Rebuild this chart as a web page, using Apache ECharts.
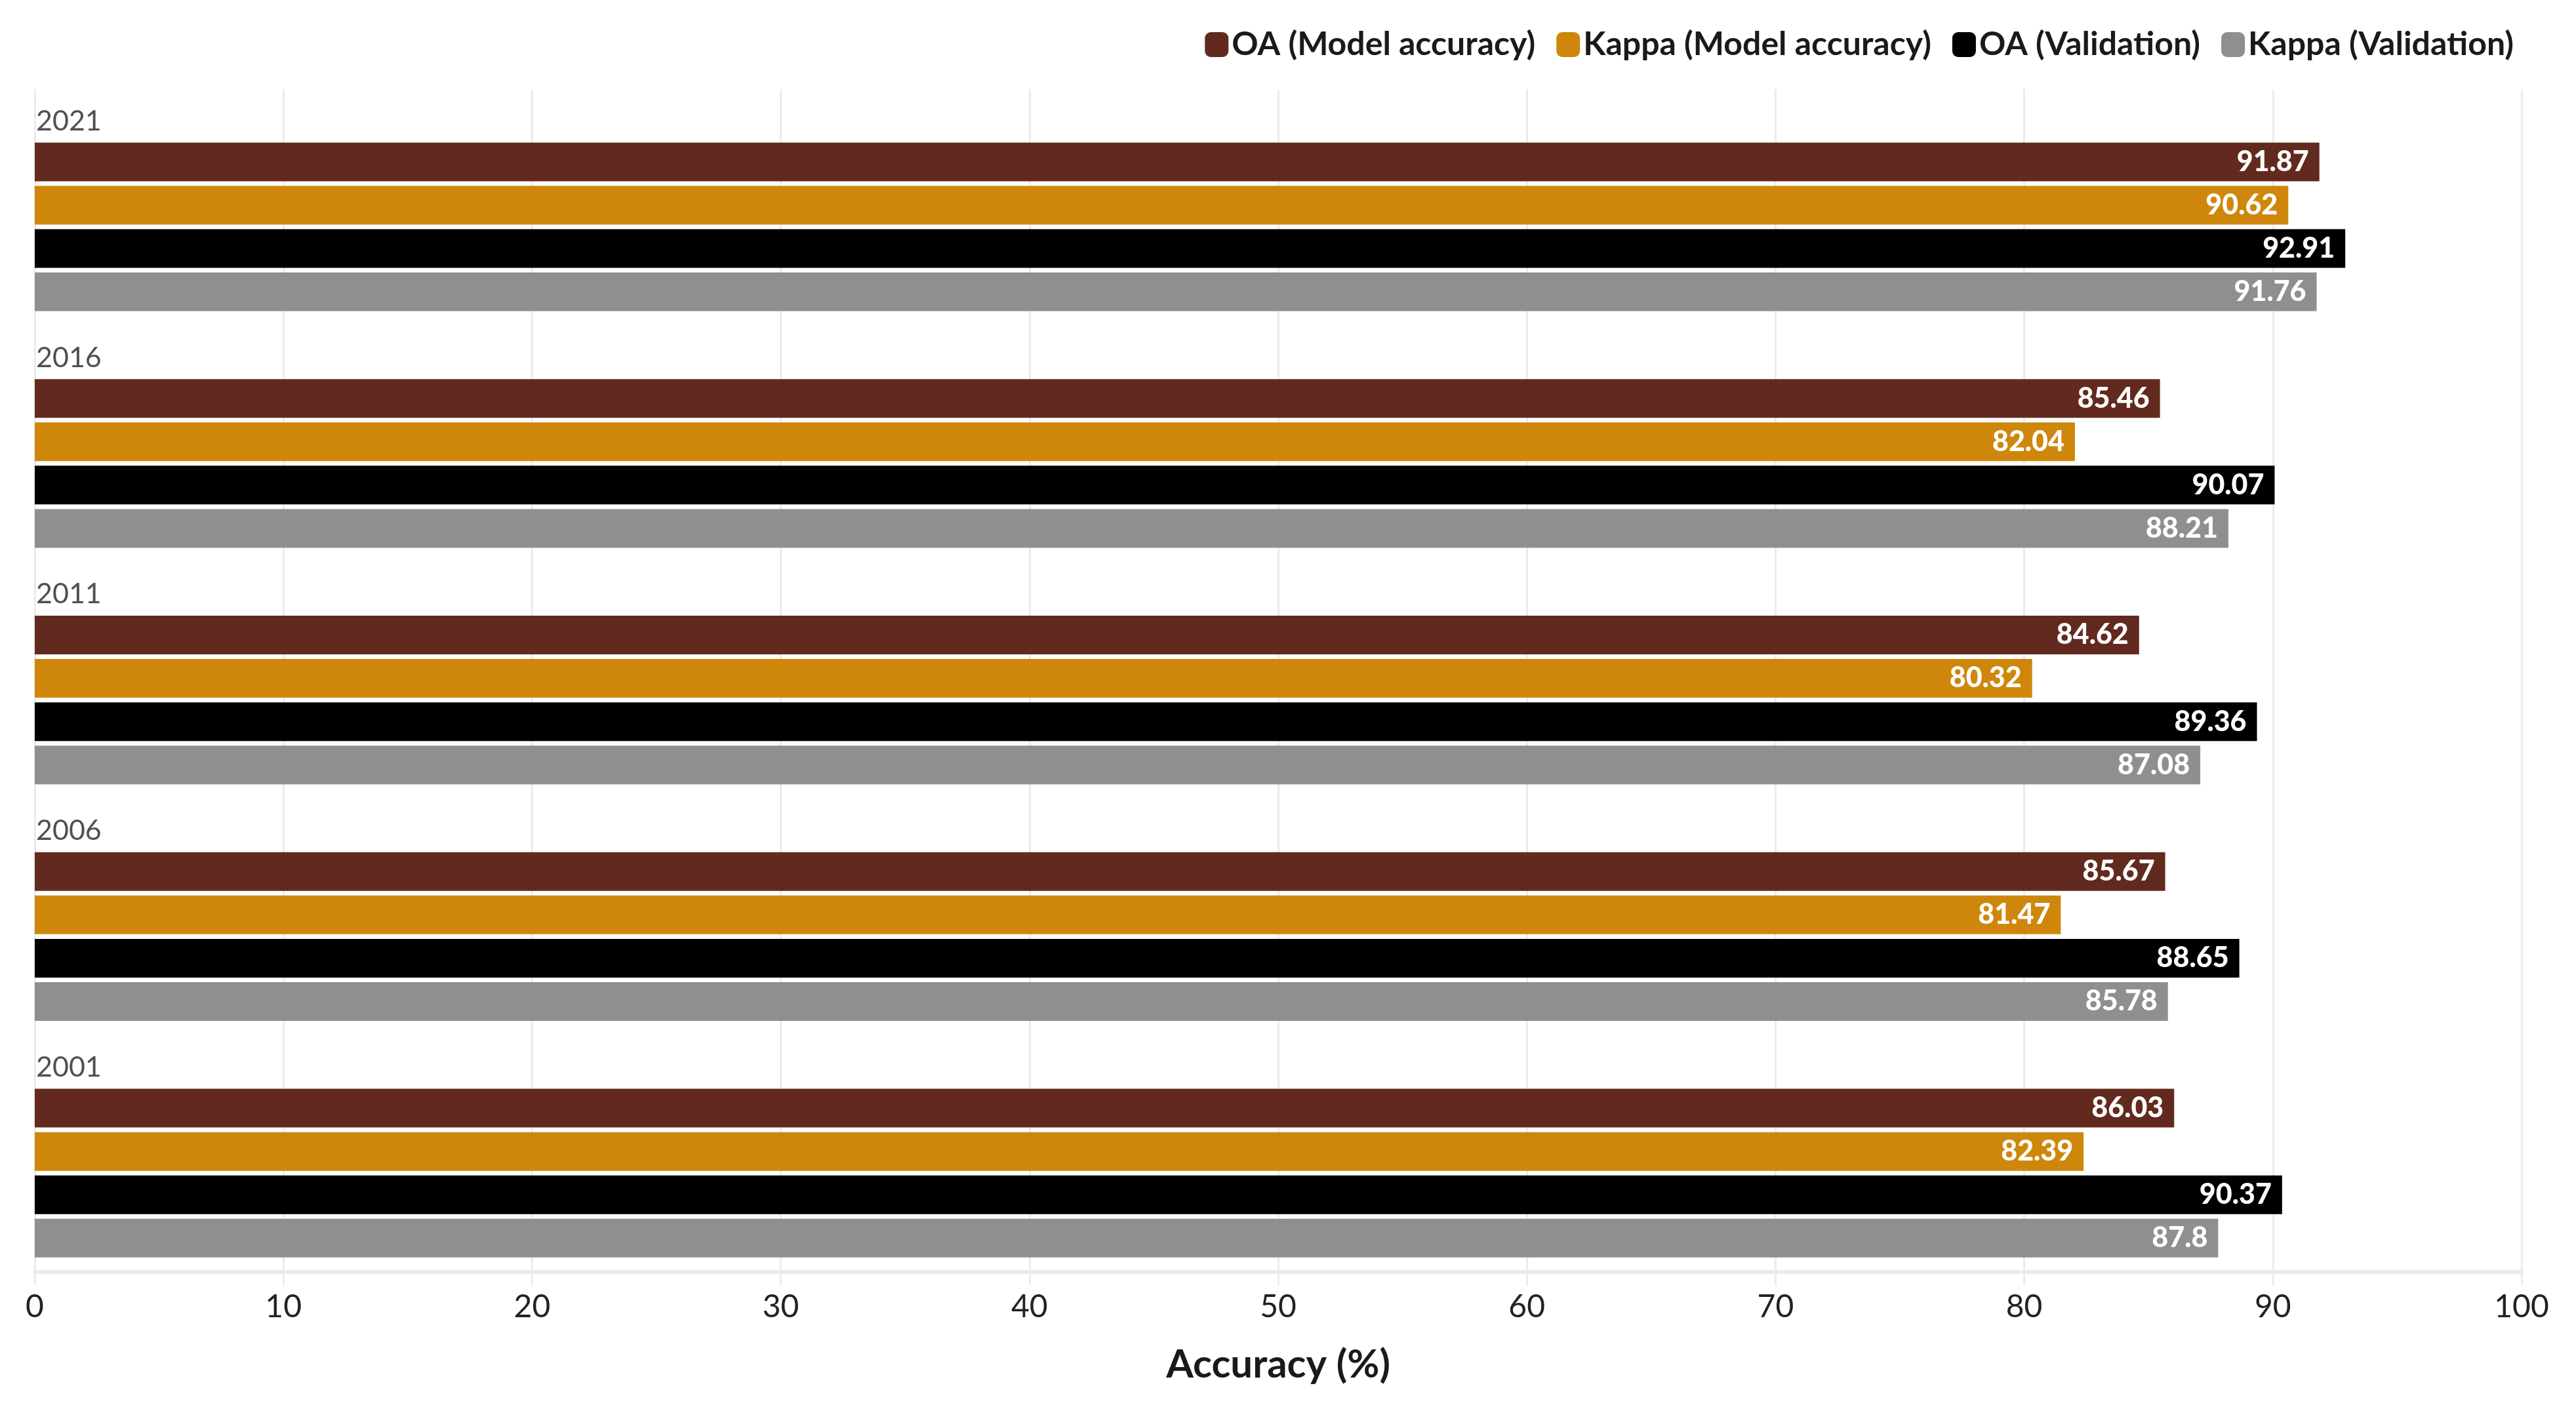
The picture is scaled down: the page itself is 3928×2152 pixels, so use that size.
<!DOCTYPE html>
<html>
<head>
<meta charset="utf-8">
<script src="https://cdn.jsdelivr.net/npm/echarts@6/dist/echarts.min.js"></script>
<style>
  html, body { margin: 0; padding: 0; background: #fff; }
  #chart { width: 3928px; height: 2152px; }
</style>
</head>
<body>
<div id="chart"></div>
<script>
// data
var years = ['2021', '2016', '2011', '2006', '2001'];
var seriesNames = ['OA (Model accuracy)', 'Kappa (Model accuracy)', 'OA (Validation)', 'Kappa (Validation)'];
var oaModel = [91.87, 85.46, 84.62, 85.67, 86.03];
var kappaModel = [90.62, 82.04, 80.32, 81.47, 82.39];
var oaValid = [92.91, 90.07, 89.36, 88.65, 90.37];
var kappaValid = [91.76, 88.21, 87.08, 85.78, 87.8];
var xTicks = [0, 10, 20, 30, 40, 50, 60, 70, 80, 90, 100];

var colors = ['#622a1f', '#cf870b', '#000000', '#8f8f8f'];
var values = [oaModel, kappaModel, oaValid, kappaValid];
var fontName = 'Lato';

var chart = echarts.init(document.getElementById('chart'), null, { renderer: 'canvas' });

var series = seriesNames.map(function (name, i) {
  return {
    name: name,
    type: 'bar',
    xAxisIndex: 1,
    yAxisIndex: 1,
    data: values[i],
    barWidth: 59,
    barGap: '12%',
    itemStyle: { color: colors[i] },
    label: {
      show: true,
      position: 'insideRight',
      distance: 16,
      color: '#ffffff',
      fontFamily: fontName,
      fontWeight: 900,
      fontSize: 43
    }
  };
});

// grid 0: gridlines + x axis, grid 1: bars, grid 2: year labels above each group
var option = {
  backgroundColor: '#ffffff',
  color: colors,
  legend: {
    data: seriesNames,
    right: 90,
    top: 38,
    icon: 'roundRect',
    itemWidth: 36,
    itemHeight: 38,
    itemGap: 32,
    textStyle: {
      fontFamily: fontName,
      fontWeight: 'bold',
      fontSize: 50,
      color: '#1a1a1a',
      padding: [0, 0, 0, 0]
    }
  },
  grid: [
    { left: 53, right: 83, top: 136, height: 1804 },
    { left: 53, right: 83, top: 165.6, height: 1804 },
    { left: 53, right: 83, top: 4.6, height: 1804 }
  ],
  xAxis: [
    {
      gridIndex: 0,
      type: 'value',
      min: xTicks[0],
      max: xTicks[xTicks.length - 1],
      interval: 10,
      name: 'Accuracy (%)',
      nameLocation: 'middle',
      nameGap: 112,
      nameTextStyle: {
        fontFamily: fontName,
        fontWeight: 'bold',
        fontSize: 60,
        color: '#1a1a1a'
      },
      axisLine: { show: true, lineStyle: { color: '#ebebeb', width: 6 } },
      axisTick: { show: true, length: 20, lineStyle: { color: '#ebebeb', width: 3 } },
      axisLabel: {
        margin: 30,
        fontFamily: fontName,
        fontSize: 48,
        color: '#222'
      },
      splitLine: { show: true, lineStyle: { color: '#ebebeb', width: 3 } }
    },
    { gridIndex: 1, type: 'value', min: 0, max: 100, show: false },
    { gridIndex: 2, type: 'value', min: 0, max: 100, show: false }
  ],
  yAxis: [
    { gridIndex: 0, type: 'category', data: years, show: false },
    { gridIndex: 1, type: 'category', data: years, inverse: true, show: false },
    {
      gridIndex: 2,
      type: 'category',
      data: years,
      inverse: true,
      axisLine: { show: false },
      axisTick: { show: false },
      splitLine: { show: false },
      axisLabel: {
        inside: true,
        margin: 2,
        align: 'left',
        fontFamily: fontName,
        fontSize: 43,
        color: '#505050'
      }
    }
  ],
  series: series
};

chart.setOption(option);
</script>
</body>
</html>
